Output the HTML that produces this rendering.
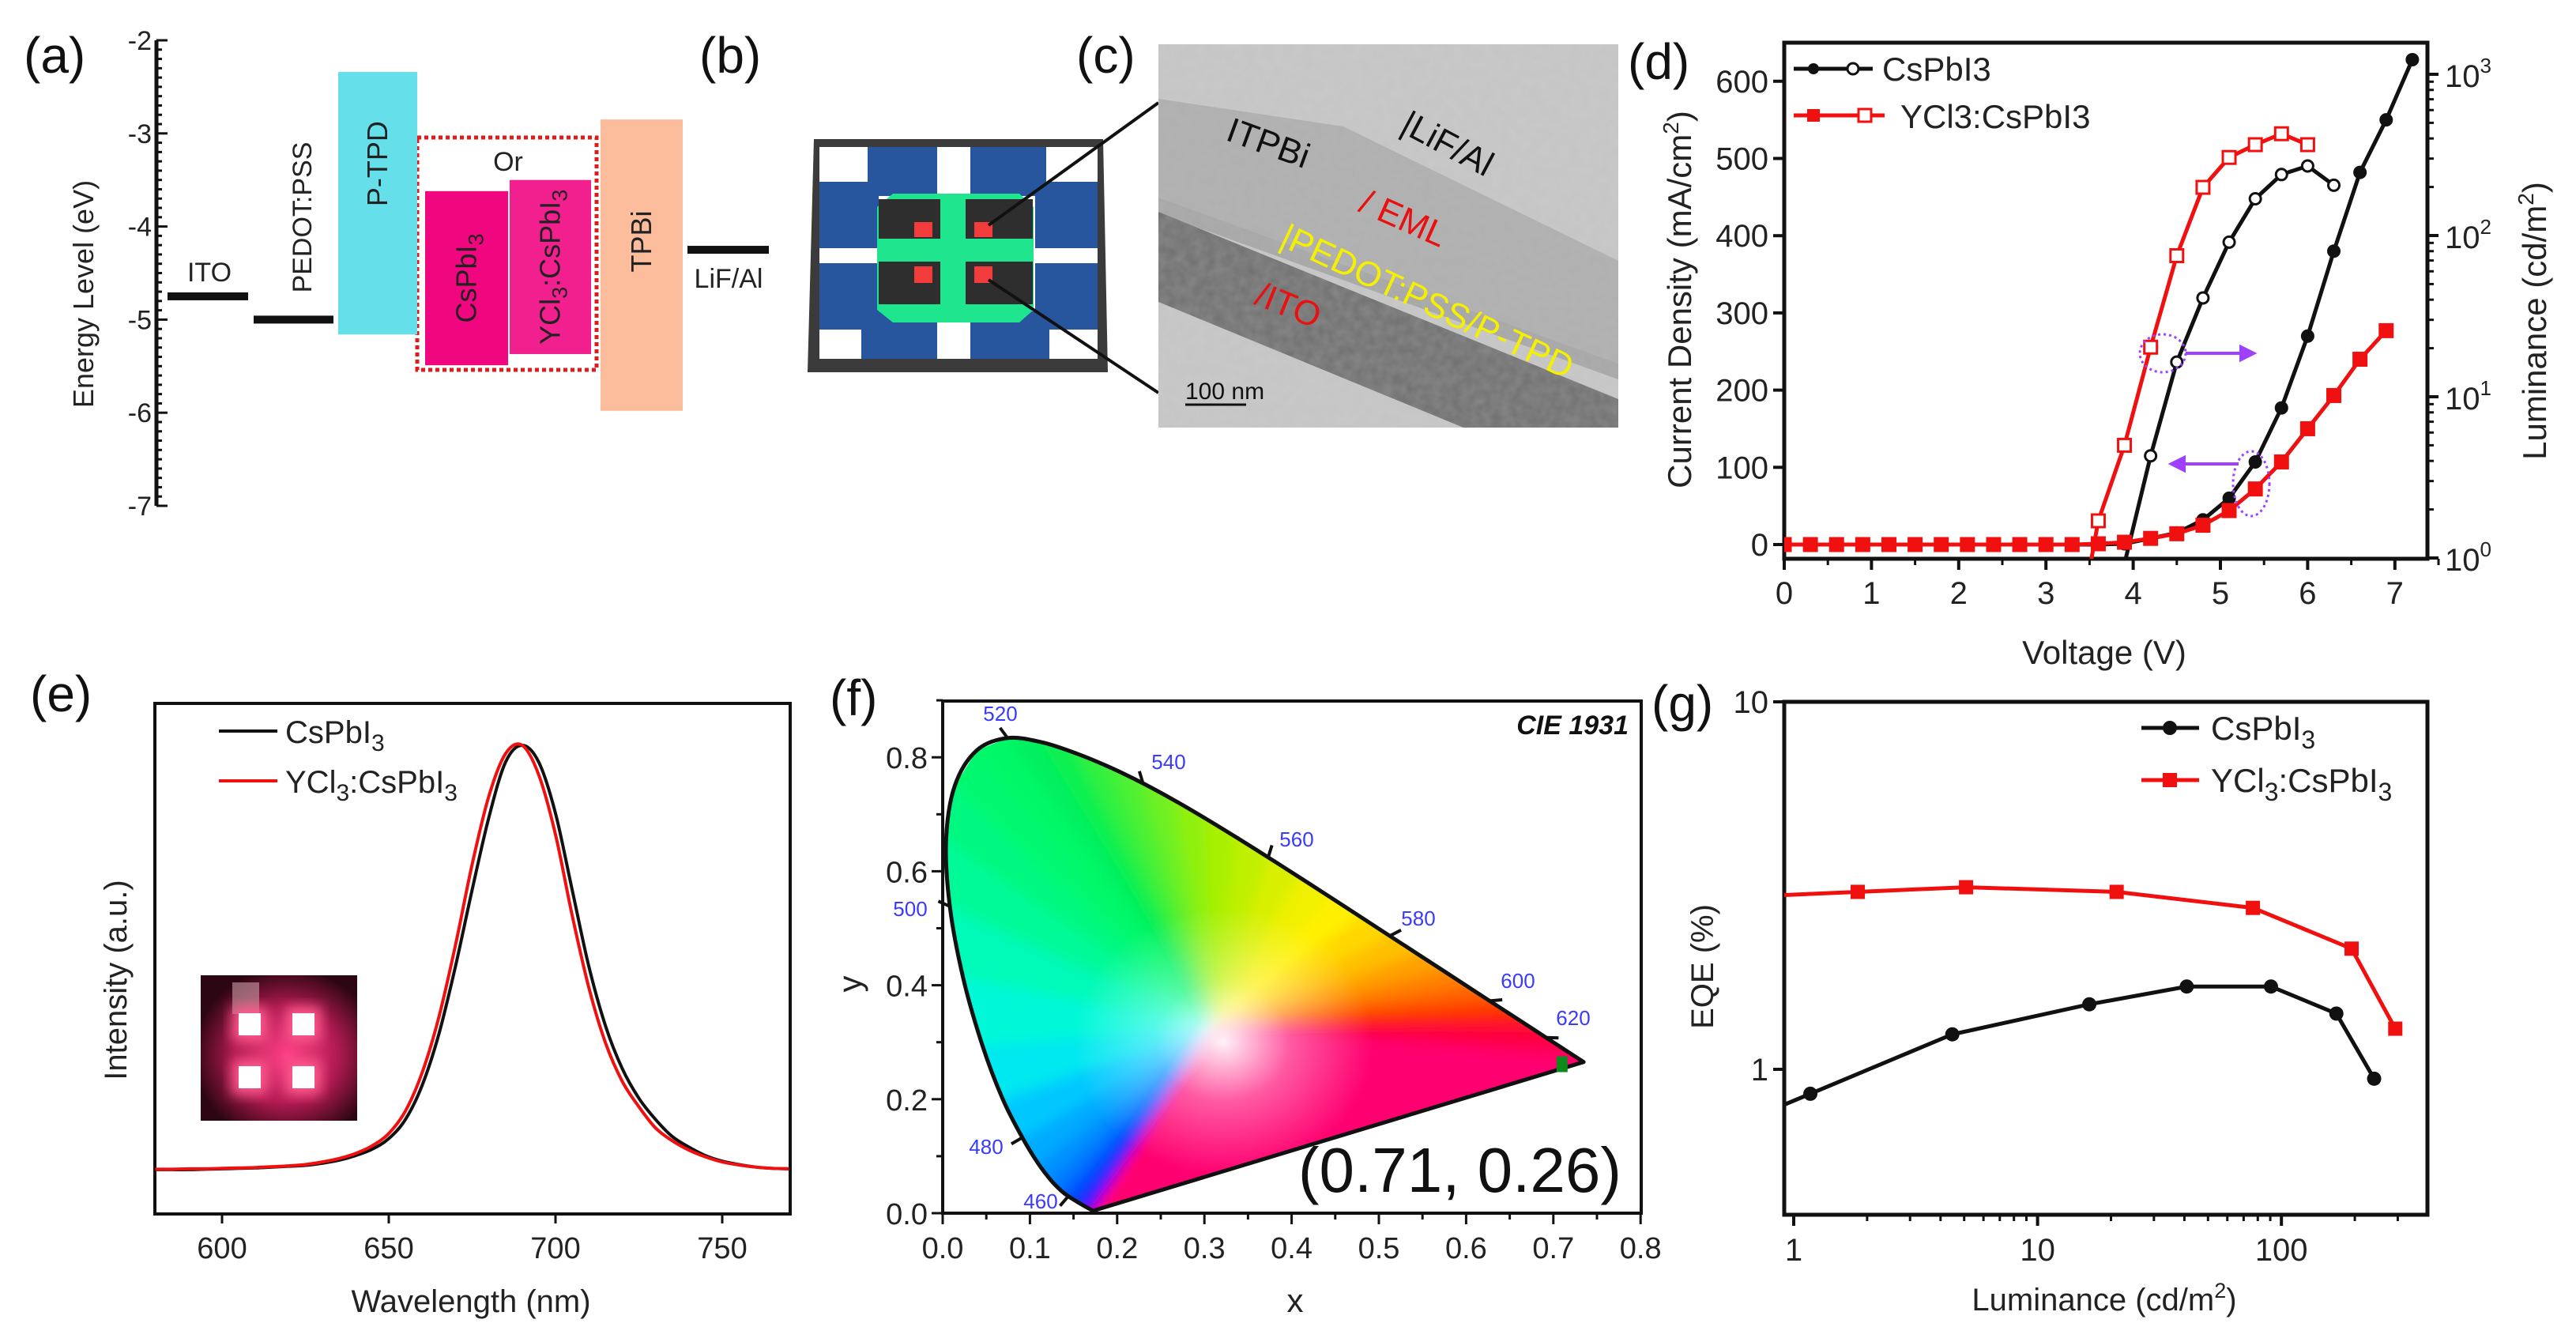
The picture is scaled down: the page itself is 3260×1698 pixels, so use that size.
<!DOCTYPE html>
<html><head><meta charset="utf-8"><style>
html,body{margin:0;padding:0;background:#fff;}
svg{display:block;font-family:"Liberation Sans",Arial,sans-serif;}
</style></head><body>
<svg id="fig" width="3260" height="1698" viewBox="0 0 3260 1698" xmlns="http://www.w3.org/2000/svg">
<defs>
<filter id="noise" x="0" y="0" width="100%" height="100%"><feTurbulence type="fractalNoise" baseFrequency="0.08" numOctaves="2" seed="3"/><feColorMatrix type="matrix" values="0 0 0 0 0.5  0 0 0 0 0.5  0 0 0 0 0.5  0 0 0 0.35 0"/></filter>
<filter id="blur8"><feGaussianBlur stdDeviation="8"/></filter>
<filter id="blur3"><feGaussianBlur stdDeviation="3"/></filter>
<radialGradient id="insetGrad" cx="0.55" cy="0.55" r="0.6"><stop offset="0" stop-color="#ff3f86"/><stop offset="0.55" stop-color="#b01a50"/><stop offset="1" stop-color="#2c0612"/></radialGradient>
<radialGradient id="whiteGrad" cx="0.5" cy="0.5" r="0.5"><stop offset="0" stop-color="#fff" stop-opacity="0.95"/><stop offset="0.45" stop-color="#fff" stop-opacity="0.35"/><stop offset="1" stop-color="#fff" stop-opacity="0"/></radialGradient>
<clipPath id="clipD"><rect x="2258" y="54" width="814" height="653"/></clipPath>
<clipPath id="clipE"><rect x="196" y="890" width="804" height="646"/></clipPath>
<clipPath id="clipG"><rect x="2258" y="888" width="814" height="649"/></clipPath>
<clipPath id="clipTEM"><rect x="1466" y="56" width="582" height="485"/></clipPath>
</defs>

<g font-size="64" fill="#111">
<text x="30" y="92">(a)</text>
<text x="885" y="92">(b)</text>
<text x="1362" y="92">(c)</text>
<text x="2060" y="100">(d)</text>
<text x="38" y="900">(e)</text>
<text x="1050" y="905">(f)</text>
<text x="2090" y="912">(g)</text>
</g>

<g id="pa">
<text transform="translate(118,372) rotate(-90)" text-anchor="middle" font-size="36" fill="#222">Energy Level (eV)</text>
</g>

<g id="pb">
<polygon points="1030,176 1396,176 1402,471 1022,471" fill="#3b3b3b"/>
<rect x="1037" y="186" width="352" height="268" fill="#fff"/>
<g fill="#27569e">
<rect x="1098" y="186" width="88" height="62"/>
<rect x="1228" y="186" width="96" height="62"/>
<rect x="1037" y="230" width="75" height="84"/>
<rect x="1037" y="333" width="75" height="84"/>
<rect x="1310" y="230" width="79" height="84"/>
<rect x="1310" y="333" width="79" height="84"/>
<rect x="1090" y="394" width="96" height="60"/>
<rect x="1228" y="394" width="100" height="60"/>
</g>
<polygon points="1130,245 1290,245 1308,262 1308,392 1290,408 1130,408 1110,392 1110,262" fill="#1fe58e"/>
<rect x="1112" y="252" width="195" height="50" fill="#2e2e2e"/>
<rect x="1112" y="331" width="195" height="54" fill="#2e2e2e"/>
<rect x="1190" y="245" width="32" height="163" fill="#1fe58e"/>
<g fill="#f23b3b">
<rect x="1157" y="281" width="23" height="19"/>
<rect x="1233" y="281" width="23" height="19"/>
<rect x="1157" y="337" width="23" height="21"/>
<rect x="1233" y="337" width="23" height="21"/>
</g>
<line x1="1251" y1="285" x2="1466" y2="130" stroke="#111" stroke-width="4"/>
<line x1="1251" y1="354" x2="1466" y2="497" stroke="#111" stroke-width="4"/>
</g>

<g id="pc" clip-path="url(#clipTEM)">
<rect x="1466" y="56" width="582" height="485" fill="#c9c9c9"/>
<polygon points="1466,125 1700,160 2048,330 2048,460 1466,250" fill="#a9a9a9" opacity="0.8"/>
<polygon points="1466,250 2048,460 2048,480 1466,270" fill="#8f8f8f" opacity="0.6"/>
<polygon points="1466,268 2048,505 2048,541 1852,541 1466,382" fill="#6e6e6e"/>
<rect x="1466" y="56" width="582" height="485" filter="url(#noise)"/>
<g font-size="44">
<text transform="translate(1600,195) rotate(20)" text-anchor="middle" fill="#111">ITPBi</text>
<text transform="translate(1825,195) rotate(28)" text-anchor="middle" fill="#111">|LiF/Al</text>
<text transform="translate(1770,290) rotate(24)" text-anchor="middle" fill="#e81010">/ EML</text>
<text transform="translate(1800,395) rotate(25)" text-anchor="middle" fill="#f5f000">|PEDOT:PSS/P-TPD</text>
<text transform="translate(1625,400) rotate(22)" text-anchor="middle" fill="#e81010">/ITO</text>
</g>
<line x1="1500" y1="512" x2="1577" y2="512" stroke="#111" stroke-width="3"/>
<text x="1500" y="505" font-size="30" fill="#111">100 nm</text>
</g>

<g id="pd">
<text transform="translate(2140,379) rotate(-90)" text-anchor="middle" font-size="42" fill="#222">Current Density (mA/cm<tspan dy="-16" font-size="28">2</tspan><tspan dy="16">)</tspan></text>
<text transform="translate(3222,406) rotate(-90)" text-anchor="middle" font-size="42" fill="#222">Luminance (cd/m<tspan dy="-16" font-size="28">2</tspan><tspan dy="16">)</tspan></text>
<text x="2663" y="840" text-anchor="middle" font-size="42" fill="#222">Voltage (V)</text>
</g>

<g id="pe">
<text transform="translate(160,1240) rotate(-90)" text-anchor="middle" font-size="40" fill="#222">Intensity (a.u.)</text>
<text x="596" y="1660" text-anchor="middle" font-size="40" fill="#222">Wavelength (nm)</text>
<g>
<rect x="254" y="1234" width="198" height="184" fill="url(#insetGrad)"/>
<rect x="294" y="1243" width="34" height="40" fill="#c8a0a8" opacity="0.6"/>
<g filter="url(#blur8)" fill="#ff5a8e"><rect x="294" y="1274" width="44" height="44"/><rect x="362" y="1274" width="44" height="44"/><rect x="294" y="1341" width="44" height="44"/><rect x="362" y="1341" width="44" height="44"/></g>
<g fill="#fff"><rect x="302" y="1282" width="28" height="28"/><rect x="370" y="1282" width="28" height="28"/><rect x="302" y="1349" width="28" height="28"/><rect x="370" y="1349" width="28" height="28"/></g>
</g>
</g>

<g id="pf">
<text x="1639" y="1660" text-anchor="middle" font-size="42" fill="#222">x</text>
<text transform="translate(1090,1245) rotate(-90)" text-anchor="middle" font-size="42" fill="#222">y</text>
</g>

<g id="pg">
<text transform="translate(2168,1223) rotate(-90)" text-anchor="middle" font-size="40" fill="#222">EQE (%)</text>
<text x="2663" y="1658" text-anchor="middle" font-size="40" fill="#222">Luminance (cd/m<tspan dy="-16" font-size="27">2</tspan><tspan dy="16">)</tspan></text>
</g>
</svg>
<script>
// ---------- data: panel a ----------
const bandNames=['P-TPD','CsPbI3','YCl3:CsPbI3','TPBi'];
const bandLumo=[-2.34,-3.62,-3.5,-2.85];
const bandHomo=[-5.16,-5.49,-5.37,-5.98];
const levelNames=['ITO','PEDOT:PSS','LiF/Al'];
const levelValues=[-4.75,-5.0,-4.25];
const aTicks=[-2,-3,-4,-5,-6,-7];
// ---------- data: panel d ----------
const dVoltJ=[0,0.3,0.6,0.9,1.2,1.5,1.8,2.1,2.4,2.7,3.0,3.3,3.6,3.9,4.2,4.5,4.8,5.1,5.4,5.7,6.0,6.3,6.6,6.9,7.2];
const dJCs=[0,0,0,0,0,0,0,0,0,0,0,0,0,1,8,15,32,60,107,177,270,380,482,550,628];
const dVoltJY=[0,0.3,0.6,0.9,1.2,1.5,1.8,2.1,2.4,2.7,3.0,3.3,3.6,3.9,4.2,4.5,4.8,5.1,5.4,5.7,6.0,6.3,6.6,6.9];
const dJY=[0,0,0,0,0,0,0,0,0,0,0,0,1,3,8,14,25,44,72,107,150,193,240,277];
const dVoltLCs=[3.9,4.2,4.5,4.8,5.1,5.4,5.7,6.0,6.3];
const dLumCs=[0.92,4.3,16.4,41,91,169,239,270,205];
const dVoltLY=[3.5,3.6,3.9,4.2,4.5,4.8,5.1,5.4,5.7,6.0];
const dLumY=[0.85,1.7,5.0,20.3,75,199,305,366,428,366];
const dXTicks=[0,1,2,3,4,5,6,7];
const dYTicks=[0,100,200,300,400,500,600];
const dRTicks=[0,1,2,3];
// ---------- data: panel e ----------
const eWave=[580,585,590,595,600,605,610,615,620,625,630,635,640,645,650,655,660,665,670,675,680,685,690,695,700,705,710,715,720,725,730,735,740,745,750,755,760,765,770];
const eCs=[0.002,0.002,0.002,0.003,0.004,0.005,0.006,0.008,0.01,0.012,0.017,0.024,0.035,0.05,0.075,0.12,0.2,0.32,0.48,0.66,0.83,0.96,1.0,0.96,0.84,0.66,0.48,0.34,0.24,0.17,0.12,0.08,0.055,0.035,0.022,0.014,0.008,0.005,0.004];
const eY=[0.003,0.003,0.004,0.004,0.005,0.006,0.007,0.009,0.011,0.014,0.02,0.028,0.04,0.058,0.087,0.14,0.23,0.36,0.53,0.72,0.88,0.98,1.0,0.93,0.79,0.6,0.43,0.3,0.21,0.15,0.1,0.07,0.048,0.032,0.02,0.013,0.008,0.005,0.004];
const eXTicks=[600,650,700,750];
// ---------- data: panel f ----------
const locusWl=[380,420,440,450,460,465,470,475,480,485,490,495,500,505,510,515,520,525,530,535,540,545,550,555,560,565,570,575,580,585,590,595,600,605,610,615,620,630,640,650,660,680,700];
const locusX=[.1741,.1714,.1644,.1566,.1440,.1355,.1241,.1096,.0913,.0687,.0454,.0235,.0082,.0039,.0139,.0389,.0743,.1142,.1547,.1929,.2296,.2658,.3016,.3373,.3731,.4087,.4441,.4788,.5125,.5448,.5752,.6029,.6270,.6482,.6658,.6801,.6915,.7079,.7190,.7260,.7300,.7334,.7347];
const locusY=[.0050,.0051,.0109,.0177,.0297,.0399,.0578,.0868,.1327,.2007,.2950,.4127,.5384,.6548,.7502,.8120,.8338,.8262,.8059,.7816,.7543,.7243,.6923,.6589,.6245,.5896,.5547,.5202,.4866,.4544,.4242,.3965,.3725,.3514,.3340,.3197,.3083,.2920,.2809,.2740,.2700,.2666,.2653];
const locusColors=['#7a00ff','#5a00ff','#2a10ff','#0040ff','#0060ff','#0078ff','#0090ff','#00aaff','#00c8ff','#00e8f0','#00f8d8','#00fab8','#00fa98','#00f880','#00f870','#00f868','#00f060','#10f050','#30f040','#50f030','#70f020','#90f010','#a8f000','#c0f000','#d8f000','#f0f000','#fff000','#ffd800','#ffc000','#ffa000','#ff8000','#ff6000','#ff4000','#ff2000','#ff1030','#ff0040','#ff0040','#ff0050','#ff0060','#ff0060','#ff0070','#ff0070','#ff0070'];
const fLabelWl=[460,480,500,520,540,560,580,600,620];
const fXTicks=[0,0.1,0.2,0.3,0.4,0.5,0.6,0.7,0.8];
const fYTicks=[0,0.2,0.4,0.6,0.8];
const fPoint=[0.71,0.26];
// ---------- data: panel g ----------
const gLumCs=[1.17,4.47,16.3,40.9,90.6,168,240];
const gEqeCs=[0.858,1.245,1.503,1.68,1.68,1.418,0.943];
const gLumY=[1.83,5.09,21.1,76.4,194,293];
const gEqeY=[3.04,3.13,3.04,2.75,2.13,1.29];
const gXTicks=[1,10,100];
const gYTicks=[1,10];

const NS='http://www.w3.org/2000/svg';
function mk(parent,tag,attrs,text){const e=document.createElementNS(NS,tag);for(const k in attrs)e.setAttribute(k,attrs[k]);if(text!=null)e.textContent=text;parent.appendChild(e);return e;}
function line(p,x1,y1,x2,y2,w,c){return mk(p,'line',{x1:x1,y1:y1,x2:x2,y2:y2,stroke:c||'#111','stroke-width':w||3});}
function subText(p,x,y,str,size,anchor){
  const t=mk(p,'text',{x:x,y:y,'font-size':size,fill:'#222','text-anchor':anchor||'start'});
  const parts=str.split('3');
  const sh=Math.round(size*0.25);
  parts.forEach((s,i)=>{
    if(i===0){ if(s) mk(t,'tspan',{},s); }
    else { mk(t,'tspan',{dy:-sh},s||'\u200b'); }
    if(i<parts.length-1){mk(t,'tspan',{dy:sh,'font-size':Math.round(size*0.75)},'3');}
  });
  return t;
}
function smoothPath(P){
  let d='M'+P[0][0]+','+P[0][1];
  for(let i=0;i<P.length-1;i++){
    const p0=P[Math.max(0,i-1)],p1=P[i],p2=P[i+1],p3=P[Math.min(P.length-1,i+2)];
    const c1=[p1[0]+(p2[0]-p0[0])/6,p1[1]+(p2[1]-p0[1])/6];
    const c2=[p2[0]-(p3[0]-p1[0])/6,p2[1]-(p3[1]-p1[1])/6];
    d+=' C'+c1[0]+','+c1[1]+' '+c2[0]+','+c2[1]+' '+p2[0]+','+p2[1];
  }
  return d;
}

// ================= panel a =================
(function(){
const g=document.getElementById('pa');
const yA=v=>51+(-2-v)*117.8;
const ax=198;
const axl=line(g,ax,yA(-2),ax,yA(-7),5);


for(let v=-2;v>=-7.001;v-=0.1){const m=Math.abs(v-Math.round(v))<0.01;const tk=line(g,ax,yA(v),ax+(m?14:7),yA(v),3);

}
aTicks.forEach(v=>{const t=mk(g,'text',{x:ax-6,y:yA(v)+12,'font-size':34,'text-anchor':'end',fill:'#222'},String(v));

});
const bandLeft=[428,538,645,760],bandW=[100,105,103,104],bandCol=['#65e0ea','#f0067f','#f2208e','#fbbd9b'];
const box=mk(g,'rect',{x:528,y:174,width:227,height:294,fill:'none',stroke:'#e21a1a','stroke-width':5,'stroke-dasharray':'5 4'});


bandNames.forEach((n,i)=>{
  const r=mk(g,'rect',{x:bandLeft[i],y:yA(bandLumo[i]),width:bandW[i],height:yA(bandHomo[i])-yA(bandLumo[i]),fill:bandCol[i]});
  
  
  const cx=bandLeft[i]+bandW[i]/2, cy=(yA(bandLumo[i])+yA(bandHomo[i]))/2+(i==0?-50:i==3?-30:0);
  const t=subText(g,0,0,n,36,'middle');
  t.setAttribute('transform','translate('+(cx+12)+','+cy+') rotate(-90)');
  
  
});
const orT=mk(g,'text',{x:643,y:216,'font-size':34,'text-anchor':'middle',fill:'#222'},'Or');


const lvX=[212,321,870],lvW=[102,101,103];
levelNames.forEach((n,i)=>{
  const l=mk(g,'rect',{x:lvX[i],y:yA(levelValues[i])-5,width:lvW[i],height:10,fill:'#111'});
  
  
});
const t1=mk(g,'text',{x:265,y:356,'font-size':34,'text-anchor':'middle',fill:'#222'},'ITO');


const t2=mk(g,'text',{transform:'translate(394,275) rotate(-90)','font-size':34,'text-anchor':'middle',fill:'#222'},'PEDOT:PSS');


const t3=mk(g,'text',{x:922,y:364,'font-size':34,'text-anchor':'middle',fill:'#222'},'LiF/Al');


})();

// ================= panel d =================
(function(){
const g=document.getElementById('pd');
const xD=v=>2258+v*110.4, yJ=j=>689-j*0.977, yL=L=>706-Math.log10(L)*204;
const fr=mk(g,'rect',{x:2258,y:54,width:814,height:653,fill:'none',stroke:'#111','stroke-width':5});


dXTicks.forEach(v=>{const tk=line(g,xD(v),707,xD(v),721,4);


const t=mk(g,'text',{x:xD(v),y:764,'font-size':40,'text-anchor':'middle',fill:'#222'},String(v));


const m=line(g,xD(v+0.5),707,xD(v+0.5),715,3);

});
dYTicks.forEach(v=>{const tk=line(g,2244,yJ(v),2258,yJ(v),4);


const t=mk(g,'text',{x:2238,y:yJ(v)+14,'font-size':40,'text-anchor':'end',fill:'#222'},String(v));

});
dRTicks.forEach(d=>{const tk=line(g,3072,yL(Math.pow(10,d)),3086,yL(Math.pow(10,d)),4);


const t=mk(g,'text',{x:3094,y:yL(Math.pow(10,d))+16,'font-size':40,fill:'#222'},'10');
mk(t,'tspan',{dy:-18,'font-size':26},String(d));


if(d<3)for(let k=2;k<10;k++){const m=line(g,3072,yL(k*Math.pow(10,d)),3080,yL(k*Math.pow(10,d)),3);

}});
const cg=mk(g,'g',{'clip-path':'url(#clipD)'});
function series(xs,ys,yf,col,filled,shape,name){
  const p=mk(cg,'polyline',{points:xs.map((x,i)=>xD(x)+','+yf(ys[i])).join(' '),fill:'none',stroke:col,'stroke-width':5});
  
  
  xs.forEach((x,i)=>{let m;const X=xD(x),Y=yf(ys[i]);
    if(shape==='sq')m=mk(cg,'rect',{x:X-8,y:Y-8,width:16,height:16,fill:filled?col:'#fff',stroke:col,'stroke-width':3});
    else m=mk(cg,'circle',{cx:X,cy:Y,r:7,fill:filled?col:'#fff',stroke:col,'stroke-width':3});
    
    });
}
series(dVoltLCs,dLumCs,yL,'#111',false,'c','cs-luminance');
series(dVoltLY,dLumY,yL,'#f01010',false,'sq','ycl-luminance');
series(dVoltJ,dJCs,yJ,'#111',true,'c','cs-current');
series(dVoltJY,dJY,yJ,'#f01010',true,'sq','ycl-current');
const e1=mk(g,'ellipse',{cx:2737,cy:447,rx:29,ry:24,fill:'none',stroke:'#a040ff','stroke-width':3,'stroke-dasharray':'3 4'});


const a1=mk(g,'path',{d:'M2766 447 L2836 447 M2836 439 L2852 447 L2836 455 Z',stroke:'#a040ff','stroke-width':4,fill:'#a040ff'});


const e2=mk(g,'ellipse',{cx:2849,cy:612,rx:23,ry:41,fill:'none',stroke:'#a040ff','stroke-width':3,'stroke-dasharray':'3 4'});


const a2=mk(g,'path',{d:'M2833 587 L2764 587 M2764 579 L2748 587 L2764 595 Z',stroke:'#a040ff','stroke-width':4,fill:'#a040ff'});


const lg=mk(g,'g',{});


line(lg,2270,87,2370,87,5,'#111');mk(lg,'circle',{cx:2295,cy:87,r:7,fill:'#111'});mk(lg,'circle',{cx:2345,cy:87,r:7,fill:'#fff',stroke:'#111','stroke-width':3});
const lt1=mk(lg,'text',{x:2382,y:102,'font-size':42,fill:'#222'},'CsPbI3');


line(lg,2270,146,2385,146,5,'#f01010');mk(lg,'rect',{x:2287,y:138,width:16,height:16,fill:'#f01010'});mk(lg,'rect',{x:2352,y:138,width:16,height:16,fill:'#fff',stroke:'#f01010','stroke-width':3});
const lt2=mk(lg,'text',{x:2405,y:162,'font-size':42,fill:'#222'},'YCl3:CsPbI3');


})();

// ================= panel e =================
(function(){
const g=document.getElementById('pe');
const xE=w=>281+(w-600)*4.22, yE=v=>1481-v*538;
const fr=mk(g,'rect',{x:196,y:890,width:804,height:646,fill:'none',stroke:'#111','stroke-width':4});


eXTicks.forEach(v=>{const tk=line(g,xE(v),1536,xE(v),1548,3);


const t=mk(g,'text',{x:xE(v),y:1592,'font-size':38,'text-anchor':'middle',fill:'#222'},String(v));

});
const cg=mk(g,'g',{'clip-path':'url(#clipE)'});
const p1=mk(cg,'path',{d:smoothPath(eWave.map((w,i)=>[xE(w),yE(eCs[i])])),fill:'none',stroke:'#111','stroke-width':4});


const p2=mk(cg,'path',{d:smoothPath(eWave.map((w,i)=>[xE(w),yE(eY[i])])),fill:'none',stroke:'#f01010','stroke-width':4});


const l1=line(g,277,925,351,925,4,'#111');


const t1=subText(g,361,940,'CsPbI3',40);


const l2=line(g,277,988,351,988,4,'#f01010');


const t2=subText(g,361,1003,'YCl3:CsPbI3',40);


})();

// ================= panel f =================
(function(){
const g=document.getElementById('pf');
const xF=x=>1193+x*1104, yF=y=>1535-y*721;
const pts=locusX.map((x,i)=>[xF(x),yF(locusY[i])]);
const W=[xF(0.3127),yF(0.329)];
const cp=mk(document.querySelector('defs'),'clipPath',{id:'clipLocus'});
mk(cp,'polygon',{points:pts.map(p=>p.join(',')).join(' ')});
const fill=mk(g,'g',{'clip-path':'url(#clipLocus)'});


const inner=mk(fill,'g',{filter:'url(#blur8)'});
for(let i=0;i<pts.length;i++){const j=(i+1)%pts.length;
  const dx1=pts[i][0]-W[0],dy1=pts[i][1]-W[1],dx2=pts[j][0]-W[0],dy2=pts[j][1]-W[1];
  mk(inner,'polygon',{points:[W,[W[0]+dx1*1.2,W[1]+dy1*1.2],[W[0]+dx2*1.2,W[1]+dy2*1.2]].map(p=>p.join(',')).join(' '),fill:locusColors[i],stroke:locusColors[i],'stroke-width':2});}
mk(fill,'ellipse',{cx:W[0]+10,cy:W[1]+20,rx:190,ry:170,fill:'url(#whiteGrad)'});
const loc=mk(g,'path',{d:smoothPath(pts)+' Z',fill:'none',stroke:'#111','stroke-width':5,'stroke-linejoin':'round'});


const labelPos=[[1317,1520],[1248,1451],[1152,1150],[1266,903],[1479,964],[1641,1062],[1795,1162],[1921,1241],[1991,1288]];
fLabelWl.forEach((wl,k)=>{const i=locusWl.indexOf(wl);const p=pts[i];
  let dx=p[0]-W[0],dy=p[1]-W[1];const d=Math.hypot(dx,dy);dx/=d;dy/=d;
  const tk=line(g,p[0],p[1],p[0]+dx*16,p[1]+dy*16,4);
  
  
  const t=mk(g,'text',{x:labelPos[k][0],y:labelPos[k][1]+9,'font-size':26,fill:'#3a3aff','text-anchor':'middle'},String(wl));
  
  });
const fr=mk(g,'rect',{x:1193,y:887,width:884,height:648,fill:'none',stroke:'#111','stroke-width':4});


fXTicks.forEach(v=>{const tk=line(g,xF(v),1535,xF(v),1549,3);


const t=mk(g,'text',{x:xF(v),y:1592,'font-size':38,'text-anchor':'middle',fill:'#222'},v.toFixed(1));


if(v<0.8){const m=line(g,xF(v+0.05),1535,xF(v+0.05),1543,3);

}});
fYTicks.forEach(v=>{const tk=line(g,1179,yF(v),1193,yF(v),3);


const t=mk(g,'text',{x:1174,y:yF(v)+14,'font-size':38,'text-anchor':'end',fill:'#222'},v.toFixed(1));


const m=line(g,1185,yF(v+0.1),1193,yF(v+0.1),3);

});
const pt=mk(g,'rect',{x:xF(fPoint[0])-7,y:yF(fPoint[1])-11,width:14,height:20,fill:'#0c8a1c'});


const ct=mk(g,'text',{x:2061,y:929,'font-size':34,'font-weight':'bold','font-style':'italic','text-anchor':'end',fill:'#111'},'CIE 1931');


const cc=mk(g,'text',{x:2052,y:1508,'font-size':80,'text-anchor':'end',fill:'#111'},'(0.71, 0.26)');


})();

// ================= panel g =================
(function(){
const g=document.getElementById('pg');
const xG=L=>2270+Math.log10(L)*308.6, yG=e=>1353-Math.log10(e)*465;
const fr=mk(g,'rect',{x:2258,y:888,width:814,height:649,fill:'none',stroke:'#111','stroke-width':5});


gXTicks.forEach(v=>{const tk=line(g,xG(v),1537,xG(v),1551,4);


const t=mk(g,'text',{x:xG(v),y:1595,'font-size':40,'text-anchor':'middle',fill:'#222'},String(v));

});
[1,10,100].forEach(d=>{for(let k=2;k<10;k++){const X=xG(k*d);if(X>3072)continue;const m=line(g,X,1537,X,1545,3);

}});
gYTicks.forEach(v=>{const tk=line(g,2244,yG(v),2258,yG(v),4);


const t=mk(g,'text',{x:2238,y:yG(v)+14,'font-size':40,'text-anchor':'end',fill:'#222'},String(v));

});
const cg=mk(g,'g',{'clip-path':'url(#clipG)'});
function series(xs,ys,col,shape,name){
  const s=(Math.log10(ys[1])-Math.log10(ys[0]))/(Math.log10(xs[1])-Math.log10(xs[0]));
  const x0=0.9, y0=Math.pow(10,Math.log10(ys[0])+s*(Math.log10(x0)-Math.log10(xs[0])));
  const P=[[xG(x0),yG(y0)]].concat(xs.map((x,i)=>[xG(x),yG(ys[i])]));
  const p=mk(cg,'polyline',{points:P.map(q=>q.join(',')).join(' '),fill:'none',stroke:col,'stroke-width':5});
  
  
  xs.forEach((x,i)=>{let m;const X=xG(x),Y=yG(ys[i]);
    if(shape==='sq')m=mk(cg,'rect',{x:X-9,y:Y-9,width:18,height:18,fill:col});
    else m=mk(cg,'circle',{cx:X,cy:Y,r:9,fill:col});
    
    });
}
series(gLumY,gEqeY,'#f01010','sq','eqe-ycl3-cspbi3');
series(gLumCs,gEqeCs,'#111','c','eqe-cspbi3');
const l1=line(g,2710,921,2783,921,5,'#111');


const m1=mk(g,'circle',{cx:2746,cy:921,r:9,fill:'#111'});


const t1=subText(g,2798,936,'CsPbI3',42);


const l2=line(g,2710,987,2783,987,5,'#f01010');


const m2=mk(g,'rect',{x:2737,y:978,width:18,height:18,fill:'#f01010'});


const t2=subText(g,2798,1002,'YCl3:CsPbI3',42);


})();
</script>
</body></html>
